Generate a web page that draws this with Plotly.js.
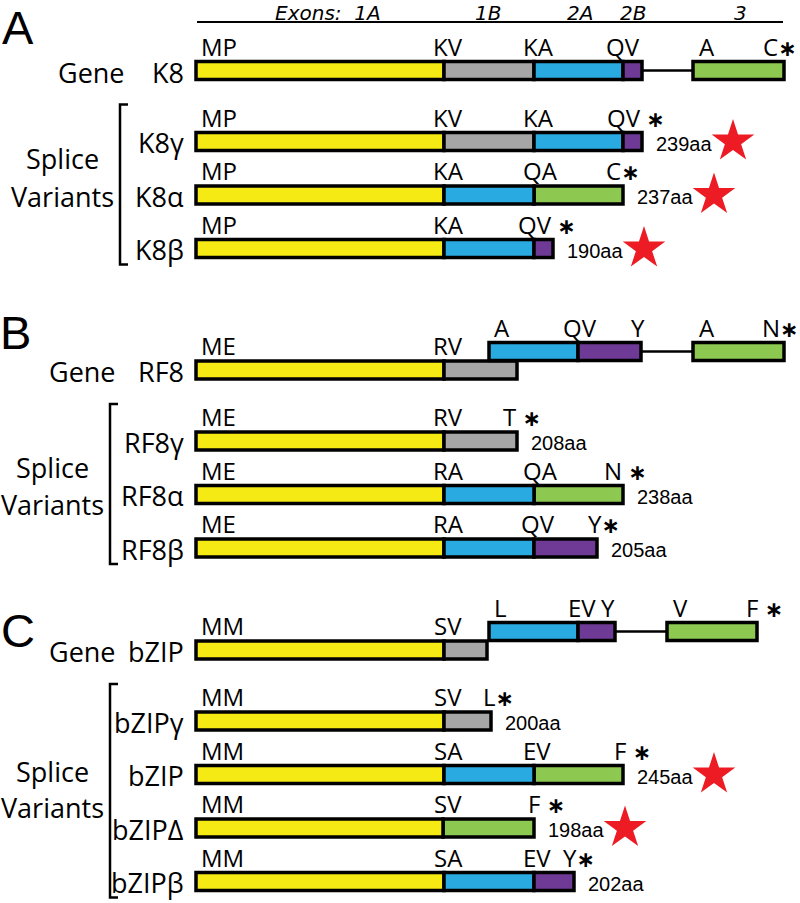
<!DOCTYPE html>
<html><head><meta charset="utf-8">
<script src="https://cdn.plot.ly/plotly-3.0.1.min.js"></script>
<style>html,body{margin:0;padding:0;background:#fff}</style>
</head><body><div id="chart" style="width:800px;height:903px"></div>
<script>
// ---------------- data ----------------
const panelLetters = ['A', 'B', 'C'];
const exonHeaderText = ['Exons:\u00a0\u00a01A', '1B', '2A', '2B', '3'];
const exonHeaderPos = [132, 292, 384, 437, 544];   // schematic units
const exonAxisSpan = [1, 587];

const geneNames = ['K8', 'RF8', 'bZIP'];
// [exon, start, end, raised]
const geneSegs = [
  [['1A',0,248],['1B',248,338],['2A',338,427],['2B',427,446],['3',497,588]],
  [['1A',0,248],['1B',248,321],['2A',293,382,1],['2B',382,445,1],['3',497,588,1]],
  [['1A',0,248],['1B',248,291],['2A',293,382,1],['2B',382,419,1],['3',471,561,1]]
];
const geneIntrons = [[446,497,0],[445,497,1],[419,471,1]];
// [text, position, anchor, raised]
const geneLabels = [
  [['MP',4,'l'],['KV',252,'c'],['KA',342,'c'],['QV',427,'c'],['A',511,'c'],['C∗',566,'l']],
  [['ME',4,'l'],['RV',252,'c'],['A',306,'c',1],['QV',384,'c',1],['Y',442,'c',1],['A',511,'c',1],['N∗',565,'l',1]],
  [['MM',4,'l'],['SV',252,'c'],['L',304,'c',1],['EV',386,'c',1],['Y',412,'c',1],['V',484,'c',1],['F ∗',549,'l',1]]
];

const variantNames = [['K8γ','K8α','K8β'],['RF8γ','RF8α','RF8β'],['bZIPγ','bZIP','bZIPΔ','bZIPβ']];
const variantSegs = [
  [ [['1A',0,248],['1B',248,338],['2A',338,427],['2B',427,446]],
    [['1A',0,248],['2A',248,338],['3',338,427]],
    [['1A',0,248],['2A',248,338],['2B',338,357]] ],
  [ [['1A',0,248],['1B',248,321]],
    [['1A',0,248],['2A',248,338],['3',338,427]],
    [['1A',0,248],['2A',248,338],['2B',338,401]] ],
  [ [['1A',0,248],['1B',248,295]],
    [['1A',0,248],['2A',248,338],['3',338,427]],
    [['1A',0,247],['3',247,338]],
    [['1A',0,248],['2A',248,338],['2B',338,378]] ]
];
const variantLabels = [
  [ [['MP',4,'l'],['KV',252,'c'],['KA',342,'c'],['QV ∗',410,'l']],
    [['MP',4,'l'],['KA',252,'c'],['QA',344,'c'],['C∗',409,'l']],
    [['MP',4,'l'],['KA',252,'c'],['QV ∗',321,'l']] ],
  [ [['ME',4,'l'],['RV',252,'c'],['T ∗',306,'l']],
    [['ME',4,'l'],['RA',252,'c'],['QA',344,'c'],['N ∗',407,'l']],
    [['ME',4,'l'],['RA',252,'c'],['QV',342,'c'],['Y∗',391,'l']] ],
  [ [['MM',4,'l'],['SV',252,'c'],['L∗',286,'l']],
    [['MM',4,'l'],['SA',252,'c'],['EV',341,'c'],['F ∗',417,'l']],
    [['MM',4,'l'],['SV',252,'c'],['F ∗',331,'l']],
    [['MM',4,'l'],['SA',252,'c'],['EV',341,'c'],['Y∗',366,'l']] ]
];
const proteinLengths = [[239,237,190],[208,238,205],[200,245,198,202]];
const starred = [[1,1,1],[0,0,0],[0,1,1,0]];

// ---------------- layout constants ----------------
const exonColors = {'1A':'#F5EA14','1B':'#A6A6A6','2A':'#29ABE2','2B':'#6E3A96','3':'#8DC850'};
const geneY = [70.5, 370, 650];
const firstVarGap = 71, varStep = 53.5, raiseBy = 18.5;
const barH = 18, labelUp = 24.5;
const spliceY = [158, 467, 771], variantsY = [196, 504, 807];
const splitX = [-134, -144, -144], geneWordX = [-105, -114, -114];
const bracketX = [-76, -86, -86];
const letterPos = [[-178, 0], [-181, 305], [-178, 603]];
const nameX = -11;
const aaGap = 13, starGap = 78;
const LBL = '"Open Sans", "DejaVu Sans", sans-serif';
const ARIAL = '"Liberation Sans", Arial, sans-serif';
const DJV = '"DejaVu Sans", sans-serif';
const AST = "<span style='font-family:DejaVu Sans;font-size:22px;font-weight:bold'>∗</span>";

// ---------------- build ----------------
const bars = {};
Object.keys(exonColors).forEach(k => bars[k] = {base: [], x: [], y: []});
const annotations = [];
const intronX = [], intronY = [];
const starX = [], starY = [];
const brX = [], brY = [];

function ann(text, x, y, anchor, size, family, extra) {
  annotations.push(Object.assign({
    text: text.replace('∗', AST), x: x, y: y, xref: 'x', yref: 'y', showarrow: false,
    xanchor: anchor === 'l' ? 'left' : anchor === 'r' ? 'right' : 'center', yanchor: 'middle',
    font: {family: family, size: size, color: '#000'}, borderpad: 0
  }, extra || {}));
}
function addSeg(seg, yc) {
  const y = seg[3] ? yc - raiseBy : yc;
  const b = bars[seg[0]];
  b.base.push(seg[1]); b.x.push(seg[2] - seg[1]); b.y.push(y);
}

panelLetters.forEach((L, p) => {
  ann(L, letterPos[p][0], letterPos[p][1], 'c', 47, ARIAL, {yanchor: 'top'});
  const gy = geneY[p];
  geneSegs[p].forEach(s => addSeg(s, gy));
  const it = geneIntrons[p];
  const iy = it[2] ? gy - raiseBy : gy;
  intronX.push(it[0], it[1], null); intronY.push(iy, iy, null);
  geneLabels[p].forEach(l => ann(l[0], l[1], (l[3] ? gy - raiseBy : gy) - labelUp, l[2], 24, LBL));
  ann('Gene', geneWordX[p], gy + 1.5, 'c', 27, LBL);
  ann(geneNames[p], nameX, gy + 1.5, 'r', 27, LBL);

  const vys = [];
  variantNames[p].forEach((nm, i) => {
    const vy = gy + firstVarGap + i * varStep;
    vys.push(vy);
    variantSegs[p][i].forEach(s => addSeg(s, vy));
    variantLabels[p][i].forEach(l => ann(l[0], l[1], vy - labelUp, l[2], 24, LBL));
    ann(nm, nameX, vy + 1, 'r', 27, LBL);
    const segs = variantSegs[p][i];
    const end = segs[segs.length - 1][2];
    ann(proteinLengths[p][i] + 'aa', end + aaGap, vy + 2, 'l', 20, ARIAL);
    if (starred[p][i]) { starX.push(end + aaGap + starGap); starY.push(vy); }
  });
  const top = vys[0] - 37, bot = Math.min(vys[vys.length - 1] + 16, 901);
  brX.push(bracketX[p] + 8, bracketX[p], bracketX[p], bracketX[p] + 8, null);
  brY.push(top, top, bot, bot, null);
  ann('Splice', splitX[p], spliceY[p], 'c', 27, LBL);
  ann('Variants', splitX[p], variantsY[p], 'c', 27, LBL);
});

exonHeaderText.forEach((t, i) => ann(t, exonHeaderPos[i], 0, 'c', 20, DJV,
  {yanchor: 'top', font: {family: DJV, size: 20, color: '#000', style: 'italic'}}));

const traces = [];
Object.keys(exonColors).forEach(k => {
  const b = bars[k];
  traces.push({
    type: 'bar', orientation: 'h', base: b.base, x: b.x, y: b.y, width: barH,
    marker: {color: exonColors[k], line: {color: '#000', width: 3.5}}, hoverinfo: 'skip'
  });
});
traces.push({type: 'scatter', mode: 'lines', x: intronX, y: intronY, line: {color: '#000', width: 2.5}, hoverinfo: 'skip'});
traces.push({type: 'scatter', mode: 'lines', x: brX, y: brY, line: {color: '#000', width: 2.5}, hoverinfo: 'skip'});
traces.push({type: 'scatter', mode: 'lines', x: exonAxisSpan, y: [22, 22], line: {color: '#000', width: 2}, hoverinfo: 'skip'});
traces.push({type: 'scatter', mode: 'markers', x: starX, y: starY,
  marker: {symbol: 'star', size: 32, color: '#ED1C24', line: {width: 0}}, hoverinfo: 'skip'});

const layout = {
  width: 800, height: 903, margin: {l: 0, r: 0, t: 0, b: 0},
  paper_bgcolor: '#fff', plot_bgcolor: '#fff', showlegend: false, barmode: 'overlay',
  xaxis: {range: [-196, 604], visible: false, fixedrange: true},
  yaxis: {range: [903, 0], visible: false, fixedrange: true},
  annotations: annotations
};
Plotly.newPlot('chart', traces, layout, {staticPlot: true, displayModeBar: false});
</script></body></html>
